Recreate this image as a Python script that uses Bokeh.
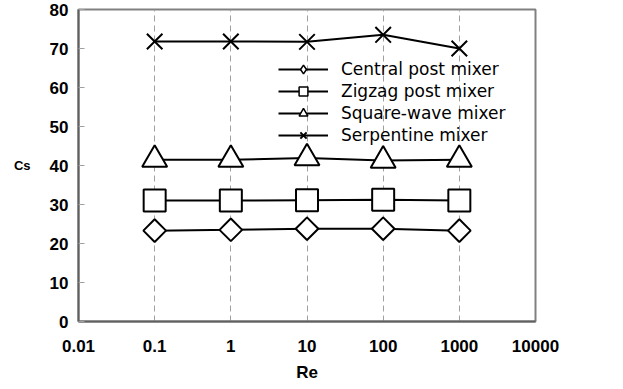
from bokeh.plotting import figure
from bokeh.models import FixedTicker, CustomJSTickFormatter, Legend, LegendItem, Range1d
from bokeh.embed import file_html
from bokeh.resources import INLINE
import math

re_vals = [0.1, 1, 10, 100, 1000]
central = [23.3, 23.5, 23.8, 23.8, 23.3]
zigzag = [31.0, 31.0, 31.1, 31.2, 31.0]
square = [41.5, 41.5, 41.9, 41.3, 41.5]
serpentine = [71.8, 71.8, 71.7, 73.5, 70.0]
x_ticks = [0.01, 0.1, 1, 10, 100, 1000, 10000]
y_ticks = [0, 10, 20, 30, 40, 50, 60, 70, 80]

p = figure(width=623, height=389, x_axis_type="log", output_backend="svg",
           toolbar_location=None, x_range=Range1d(0.01, 10000), y_range=Range1d(0, 80),
           min_border_left=78, min_border_right=88, min_border_top=9, min_border_bottom=68)
p.background_fill_color = "white"
p.border_fill_color = "white"
p.outline_line_color = "#808080"
p.outline_line_width = 2

p.xaxis.ticker = FixedTicker(ticks=x_ticks)
p.xaxis.formatter = CustomJSTickFormatter(code="return tick.toString();")
p.yaxis.ticker = FixedTicker(ticks=y_ticks)
for ax in (p.xaxis, p.yaxis):
    ax.axis_line_color = "#606060"
    ax.axis_line_width = 2
    ax.major_label_text_font = "Liberation Sans"
    ax.major_label_text_font_style = "bold"
    ax.major_label_text_font_size = "17px"
    ax.major_label_text_color = "black"
    ax.minor_tick_line_color = None
    ax.axis_label_text_font = "Liberation Sans"
    ax.axis_label_text_font_style = "bold"
    ax.axis_label_text_font_size = "17px"
    ax.axis_label_text_color = "black"
p.xaxis.major_tick_line_color = None
p.xaxis.major_label_standoff = 12
p.xaxis.axis_label = "Re"
p.xaxis.axis_label_standoff = 8
p.yaxis.major_tick_in = 6
p.yaxis.major_tick_out = 0
p.yaxis.major_tick_line_color = "#a0a0a0"
p.yaxis.major_label_standoff = 10
p.yaxis.axis_label = "Cs"
p.yaxis.axis_label_text_font_size = "13px"
p.yaxis.axis_label_orientation = "horizontal"
p.yaxis.axis_label_standoff = 16

p.ygrid.grid_line_color = None
p.xgrid.grid_line_color = "#a0a0a0"
p.xgrid.grid_line_dash = "6 4"
p.xgrid.grid_line_width = 1

rot = math.pi / 4
p.line(re_vals, central, line_color="black", line_width=2)
p.scatter(re_vals, central, marker="square", angle=rot, size=16, fill_color="white", line_color="black", line_width=2)
p.line(re_vals, zigzag, line_color="black", line_width=2)
p.scatter(re_vals, zigzag, marker="square", size=22, fill_color="white", line_color="black", line_width=2)
p.line(re_vals, square, line_color="black", line_width=2)
p.scatter(re_vals, square, marker="triangle", size=25, fill_color="white", line_color="black", line_width=2)
p.line(re_vals, serpentine, line_color="black", line_width=2)
p.scatter(re_vals, serpentine, marker="x", size=22, line_color="black", line_width=2)

# legend proxies (size in legend is set by glyph box)
ll = p.line([1, 2], [-100, -100], line_color="black", line_width=2)
l1 = p.scatter([1], [-100], marker="diamond", fill_color="white", line_color="black", line_width=1.5)
l2 = p.scatter([1], [-100], marker="square", fill_color="white", line_color="black", line_width=1.5)
l3 = p.scatter([1], [-100], marker="triangle", fill_color="white", line_color="black", line_width=1.5)
l4 = p.scatter([1], [-100], marker="x", line_color="black", line_width=2)

legend = Legend(items=[
    LegendItem(label="Central post mixer", renderers=[ll, l1]),
    LegendItem(label="Zigzag post mixer", renderers=[ll, l2]),
    LegendItem(label="Square-wave mixer", renderers=[ll, l3]),
    LegendItem(label="Serpentine mixer", renderers=[ll, l4]),
], location=(200, 175))
legend.background_fill_alpha = 0
legend.border_line_color = None
legend.label_text_font = "DejaVu Sans"
legend.label_text_font_size = "17px"
legend.label_text_color = "black"
legend.glyph_width = 50
legend.glyph_height = 22
legend.label_height = 22
legend.spacing = 0
legend.padding = 0
legend.label_standoff = 13
p.add_layout(legend, "center")

open("out.html", "w").write(file_html(p, INLINE))
